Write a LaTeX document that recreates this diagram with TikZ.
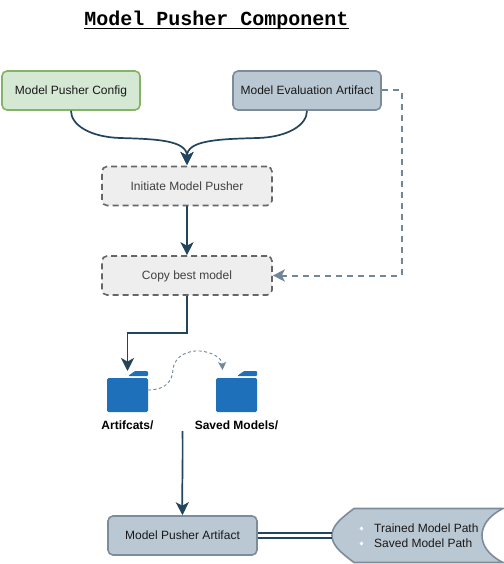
\documentclass[tikz,border=0pt]{standalone}
\usepackage{fontspec}
\setmainfont{Liberation Sans}
\newfontfamily\titlefont{Liberation Mono}
\usetikzlibrary{arrows.meta,calc}
\definecolor{navy}{HTML}{23445D}
\definecolor{blfill}{HTML}{BAC8D3}
\definecolor{grfill}{HTML}{D5E8D4}
\definecolor{grline}{HTML}{82B366}
\definecolor{gyfill}{HTML}{EEEEEE}
\definecolor{gyline}{HTML}{666666}
\definecolor{folderblue}{HTML}{1F70BB}
\definecolor{dashblue}{HTML}{6F8799}
\definecolor{bordblue}{HTML}{7C8C9A}
\tikzset{
  x=1pt,y=-1pt,
  every node/.style={font=\fontsize{12}{14}\selectfont,inner sep=0pt},
  boxbase/.style={rounded corners=5pt,line width=1.6pt,minimum height=39pt,anchor=center,text height=9pt,text depth=1pt},
  greenbox/.style={boxbase,draw=grline,fill=grfill,text=black!90},
  bluebox/.style={boxbase,draw=bordblue,fill=blfill,text=black!90},
  graybox/.style={boxbase,draw=gyline,fill=gyfill,text=black!75,dash pattern=on 6pt off 4pt},
  flow/.style={draw=navy,line width=1.7pt,-{Stealth[length=13pt,width=13pt,inset=3.5pt]}},
  dashflow/.style={draw=dashblue,line width=2pt,dash pattern=on 6pt off 5pt,-{Stealth[length=12pt,width=12pt,inset=3pt]}},
  thinflow/.style={draw=dashblue,line width=.9pt,dash pattern=on 3pt off 2.5pt,-{Stealth[length=8pt,width=8pt,inset=2pt]}},
  folderlabel/.style={font=\fontsize{12}{14}\selectfont\bfseries,text=black},
  foldershape/.pic={
    \fill[folderblue,rounded corners=1.5pt] (0,7) -- (41,7) -- (41,41) -- (0,41) -- cycle;
    \fill[folderblue,rounded corners=1pt] (21,5) -- (28,0) -- (41,0) -- (41,5) -- cycle;
  }
}
\begin{document}
\begin{tikzpicture}
\useasboundingbox (0,0) rectangle (503,564);
\fill[white] (0,0) rectangle (503,564);

\node[font=\titlefont\bfseries\fontsize{20}{24}\selectfont,text=black] (title) at (216.5,20.5) {Model Pusher Component};
\draw[black,line width=1.2pt] (title.west |- 0,28.5) -- (title.east |- 0,28.5);

\node[greenbox,minimum width=138pt] (cfg) at (71,90.5) {Model Pusher Config};
\node[bluebox,minimum width=148pt] (eval) at (307,90.5) {Model Evaluation Artifact};
\node[graybox,minimum width=170pt] (init) at (187,186) {Initiate Model Pusher};
\node[graybox,minimum width=170pt] (copy) at (187,275.5) {Copy best model};
\node[bluebox,minimum width=149pt] (art) at (182.5,535.5) {Model Pusher Artifact};

% folders
\pic at (107,371) {foldershape};
\pic at (216,371) {foldershape};
\coordinate (f1) at (127.5,371);
\coordinate (f1r) at (148,390);
\coordinate (f2) at (222.5,370);
\node[folderlabel] (l1) at (127.5,425) {Artifcats/};
\node[folderlabel] (l2) at (236.5,425) {Saved Models/};

% tape shape
\draw[bordblue,line width=1.6pt,fill=blfill] (354,508.5)
  -- (503,508.5)
  .. controls (488,516) and (482,526) .. (482,535.5)
  .. controls (482,545) and (488,555) .. (503,562.5)
  -- (354,562.5)
  .. controls (340,552) and (332,545) .. (332,535.5)
  .. controls (332,526) and (340,519) .. (354,508.5) -- cycle;
\coordinate (tapeL) at (332,535.5);
\node[anchor=west,text=black!90] (t1) at (374,528) {Trained Model Path};
\node[anchor=west,text=black!90] (t2) at (374,543) {Saved Model Path};
\fill[white] (361.5,528.5) circle (1.8pt) (361.5,543.5) circle (1.8pt);

% connectors
\draw[flow] (cfg.south) .. controls (71,125) and (90,137) .. (120,138)
  .. controls (155,139) and (187,140) .. (187,165);
\draw[flow] (eval.south) .. controls (307,125) and (288,137) .. (258,138)
  .. controls (220,139) and (187,140) .. (187,165);
\draw[flow] (init.south) -- (copy.north);
\draw[flow] (copy.south) -- (187,333) -- (127.5,333) -- (f1);
\coordinate (d1) at (401.5,90.5);
\coordinate (d2) at (401.5,275.5);
\draw[dashflow] (eval.east) -- (d1) -- (d2) -- (copy.east);
\draw[thinflow] (f1r) .. controls (165,390) and (172,382) .. (173,370)
  .. controls (174,355) and (190,350) .. (200,351)
  .. controls (212,352) and (222,358) .. (f2);
\coordinate (a0) at (182.5,431);
\draw[flow] (a0) .. controls (183,460) and (182,485) .. (art.north);
\draw[navy,line width=1.6pt] ($(art.east)+(0,-2.7)$) -- ($(tapeL)+(0,-2.7)$);
\draw[navy,line width=1.6pt] ($(art.east)+(0,2.7)$) -- ($(tapeL)+(0,2.7)$);
\end{tikzpicture}
\end{document}
